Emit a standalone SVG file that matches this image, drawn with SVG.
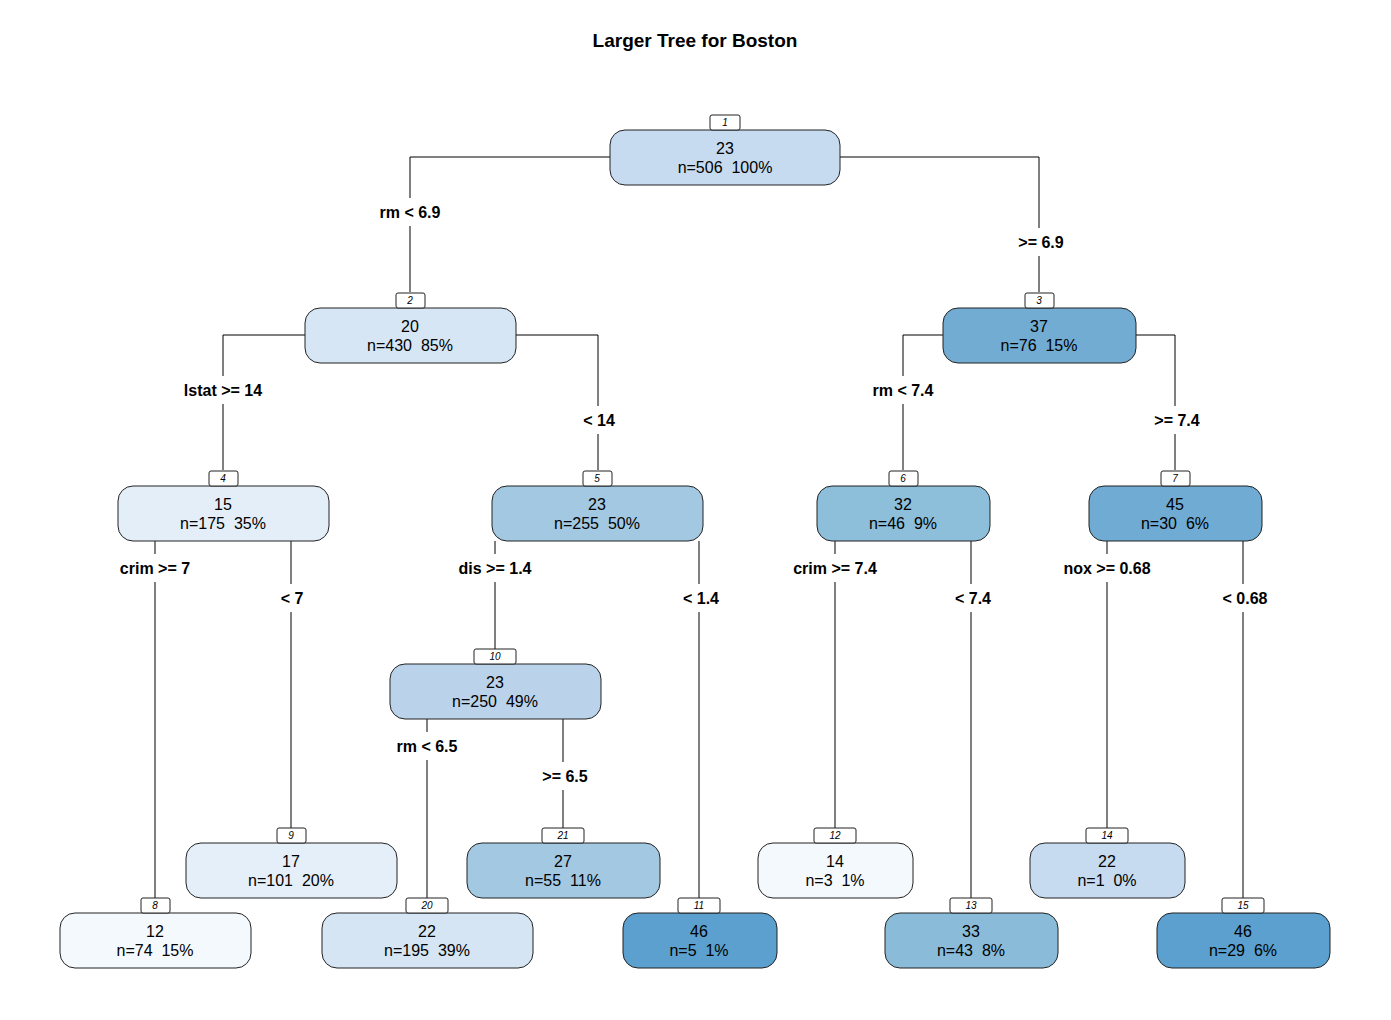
<svg xmlns="http://www.w3.org/2000/svg" width="1391" height="1020" viewBox="0 0 1391 1020">
<style>
.bg{fill:#fff}
.n{stroke:#222;stroke-width:1}
.nt{font-family:"Liberation Sans",Arial,sans-serif;font-size:16px;fill:#000;text-anchor:middle;white-space:pre}
.lb{fill:#fff;stroke:#222;stroke-width:1}
.lt{font-family:"Liberation Sans",Arial,sans-serif;font-size:10px;font-style:italic;fill:#000;text-anchor:middle}
.c{fill:none;stroke:#000;stroke-width:1}
.sp{font-family:"Liberation Sans",Arial,sans-serif;font-size:16px;font-weight:bold;fill:#000;text-anchor:middle}
.gap{fill:#fff}
.title{font-family:"Liberation Sans",Arial,sans-serif;font-size:19px;font-weight:bold;fill:#000;text-anchor:middle}
</style>
<rect class="bg" x="0" y="0" width="1391" height="1020"/>
<text class="title" x="695" y="47">Larger Tree for Boston</text>
<g id="connectors">
<path class="c" d="M610,157 H410 V292"/>
<path class="c" d="M840,157 H1039 V292"/>
<path class="c" d="M305,335 H223 V470"/>
<path class="c" d="M516,335 H598 V470"/>
<path class="c" d="M943,335 H903 V470"/>
<path class="c" d="M1136,335 H1175 V470"/>
<path class="c" d="M155,541 V898"/>
<path class="c" d="M291,541 V828"/>
<path class="c" d="M495,541 V649"/>
<path class="c" d="M699,541 V898"/>
<path class="c" d="M835,541 V828"/>
<path class="c" d="M971,541 V898"/>
<path class="c" d="M1107,541 V828"/>
<path class="c" d="M1243,541 V898"/>
<path class="c" d="M427,719 V898"/>
<path class="c" d="M563,719 V828"/>
<g id="split-labels">
<rect class="gap" x="370" y="198" width="80" height="28"/><text class="sp" x="410" y="218">rm &lt; 6.9</text>
<rect class="gap" x="1010" y="228" width="62" height="28"/><text class="sp" x="1041" y="248">&gt;= 6.9</text>
<rect class="gap" x="176" y="376" width="94" height="28"/><text class="sp" x="223" y="396">lstat &gt;= 14</text>
<rect class="gap" x="576" y="406" width="46" height="28"/><text class="sp" x="599" y="426">&lt; 14</text>
<rect class="gap" x="864" y="376" width="78" height="28"/><text class="sp" x="903" y="396">rm &lt; 7.4</text>
<rect class="gap" x="1146" y="406" width="58" height="28"/><text class="sp" x="1177" y="426">&gt;= 7.4</text>
<rect class="gap" x="113" y="554" width="84" height="28"/><text class="sp" x="155" y="574">crim &gt;= 7</text>
<rect class="gap" x="274" y="584" width="36" height="28"/><text class="sp" x="292" y="604">&lt; 7</text>
<rect class="gap" x="452" y="554" width="86" height="28"/><text class="sp" x="495" y="574">dis &gt;= 1.4</text>
<rect class="gap" x="676" y="584" width="50" height="28"/><text class="sp" x="701" y="604">&lt; 1.4</text>
<rect class="gap" x="786" y="554" width="98" height="28"/><text class="sp" x="835" y="574">crim &gt;= 7.4</text>
<rect class="gap" x="948" y="584" width="50" height="28"/><text class="sp" x="973" y="604">&lt; 7.4</text>
<rect class="gap" x="1055" y="554" width="104" height="28"/><text class="sp" x="1107" y="574">nox &gt;= 0.68</text>
<rect class="gap" x="1214" y="584" width="60" height="28"/><text class="sp" x="1245" y="604">&lt; 0.68</text>
<rect class="gap" x="390" y="732" width="74" height="28"/><text class="sp" x="427" y="752">rm &lt; 6.5</text>
<rect class="gap" x="536" y="762" width="58" height="28"/><text class="sp" x="565" y="782">&gt;= 6.5</text>
</g>
</g>
<g id="node1"><rect class="n" x="610" y="130" width="230" height="55" rx="15" fill="#C6DBEF"/><rect class="lb" x="710" y="115" width="30" height="15" rx="2"/><text class="lt" x="725" y="126">1</text><text class="nt" x="725" y="154">23</text><text class="nt" x="725" y="173">n=506&#160; 100%</text></g>
<g id="node2"><rect class="n" x="305" y="308" width="211" height="55" rx="15" fill="#D6E6F4"/><rect class="lb" x="396" y="293" width="29" height="15" rx="2"/><text class="lt" x="410" y="304">2</text><text class="nt" x="410" y="332">20</text><text class="nt" x="410" y="351">n=430&#160; 85%</text></g>
<g id="node3"><rect class="n" x="943" y="308" width="193" height="55" rx="15" fill="#72ACD3"/><rect class="lb" x="1025" y="293" width="29" height="15" rx="2"/><text class="lt" x="1039" y="304">3</text><text class="nt" x="1039" y="332">37</text><text class="nt" x="1039" y="351">n=76&#160; 15%</text></g>
<g id="node4"><rect class="n" x="118" y="486" width="211" height="55" rx="15" fill="#E3EEF9"/><rect class="lb" x="209" y="471" width="29" height="15" rx="2"/><text class="lt" x="223" y="482">4</text><text class="nt" x="223" y="510">15</text><text class="nt" x="223" y="529">n=175&#160; 35%</text></g>
<g id="node5"><rect class="n" x="492" y="486" width="211" height="55" rx="15" fill="#A3C8E2"/><rect class="lb" x="583" y="471" width="29" height="15" rx="2"/><text class="lt" x="597" y="482">5</text><text class="nt" x="597" y="510">23</text><text class="nt" x="597" y="529">n=255&#160; 50%</text></g>
<g id="node6"><rect class="n" x="817" y="486" width="173" height="55" rx="15" fill="#8DBEDA"/><rect class="lb" x="889" y="471" width="29" height="15" rx="2"/><text class="lt" x="903" y="482">6</text><text class="nt" x="903" y="510">32</text><text class="nt" x="903" y="529">n=46&#160; 9%</text></g>
<g id="node7"><rect class="n" x="1089" y="486" width="173" height="55" rx="15" fill="#6FABD3"/><rect class="lb" x="1161" y="471" width="29" height="15" rx="2"/><text class="lt" x="1175" y="482">7</text><text class="nt" x="1175" y="510">45</text><text class="nt" x="1175" y="529">n=30&#160; 6%</text></g>
<g id="node10"><rect class="n" x="390" y="664" width="211" height="55" rx="15" fill="#BAD3EB"/><rect class="lb" x="474" y="649" width="42" height="15" rx="2"/><text class="lt" x="495" y="660">10</text><text class="nt" x="495" y="688">23</text><text class="nt" x="495" y="707">n=250&#160; 49%</text></g>
<g id="node9"><rect class="n" x="186" y="843" width="211" height="55" rx="15" fill="#E5EFF9"/><rect class="lb" x="277" y="828" width="29" height="15" rx="2"/><text class="lt" x="291" y="839">9</text><text class="nt" x="291" y="867">17</text><text class="nt" x="291" y="886">n=101&#160; 20%</text></g>
<g id="node21"><rect class="n" x="467" y="843" width="193" height="55" rx="15" fill="#A3C8E2"/><rect class="lb" x="542" y="828" width="42" height="15" rx="2"/><text class="lt" x="563" y="839">21</text><text class="nt" x="563" y="867">27</text><text class="nt" x="563" y="886">n=55&#160; 11%</text></g>
<g id="node12"><rect class="n" x="758" y="843" width="155" height="55" rx="15" fill="#F4F9FE"/><rect class="lb" x="814" y="828" width="42" height="15" rx="2"/><text class="lt" x="835" y="839">12</text><text class="nt" x="835" y="867">14</text><text class="nt" x="835" y="886">n=3&#160; 1%</text></g>
<g id="node14"><rect class="n" x="1030" y="843" width="155" height="55" rx="15" fill="#C6DBEF"/><rect class="lb" x="1086" y="828" width="42" height="15" rx="2"/><text class="lt" x="1107" y="839">14</text><text class="nt" x="1107" y="867">22</text><text class="nt" x="1107" y="886">n=1&#160; 0%</text></g>
<g id="node8"><rect class="n" x="60" y="913" width="191" height="55" rx="15" fill="#F4F9FE"/><rect class="lb" x="141" y="898" width="29" height="15" rx="2"/><text class="lt" x="155" y="909">8</text><text class="nt" x="155" y="937">12</text><text class="nt" x="155" y="956">n=74&#160; 15%</text></g>
<g id="node20"><rect class="n" x="322" y="913" width="211" height="55" rx="15" fill="#D5E5F4"/><rect class="lb" x="406" y="898" width="42" height="15" rx="2"/><text class="lt" x="427" y="909">20</text><text class="nt" x="427" y="937">22</text><text class="nt" x="427" y="956">n=195&#160; 39%</text></g>
<g id="node11"><rect class="n" x="623" y="913" width="154" height="55" rx="15" fill="#5BA0CE"/><rect class="lb" x="678" y="898" width="42" height="15" rx="2"/><text class="lt" x="699" y="909">11</text><text class="nt" x="699" y="937">46</text><text class="nt" x="699" y="956">n=5&#160; 1%</text></g>
<g id="node13"><rect class="n" x="885" y="913" width="173" height="55" rx="15" fill="#8ABCDA"/><rect class="lb" x="950" y="898" width="42" height="15" rx="2"/><text class="lt" x="971" y="909">13</text><text class="nt" x="971" y="937">33</text><text class="nt" x="971" y="956">n=43&#160; 8%</text></g>
<g id="node15"><rect class="n" x="1157" y="913" width="173" height="55" rx="15" fill="#5BA0CE"/><rect class="lb" x="1222" y="898" width="42" height="15" rx="2"/><text class="lt" x="1243" y="909">15</text><text class="nt" x="1243" y="937">46</text><text class="nt" x="1243" y="956">n=29&#160; 6%</text></g>
</svg>
